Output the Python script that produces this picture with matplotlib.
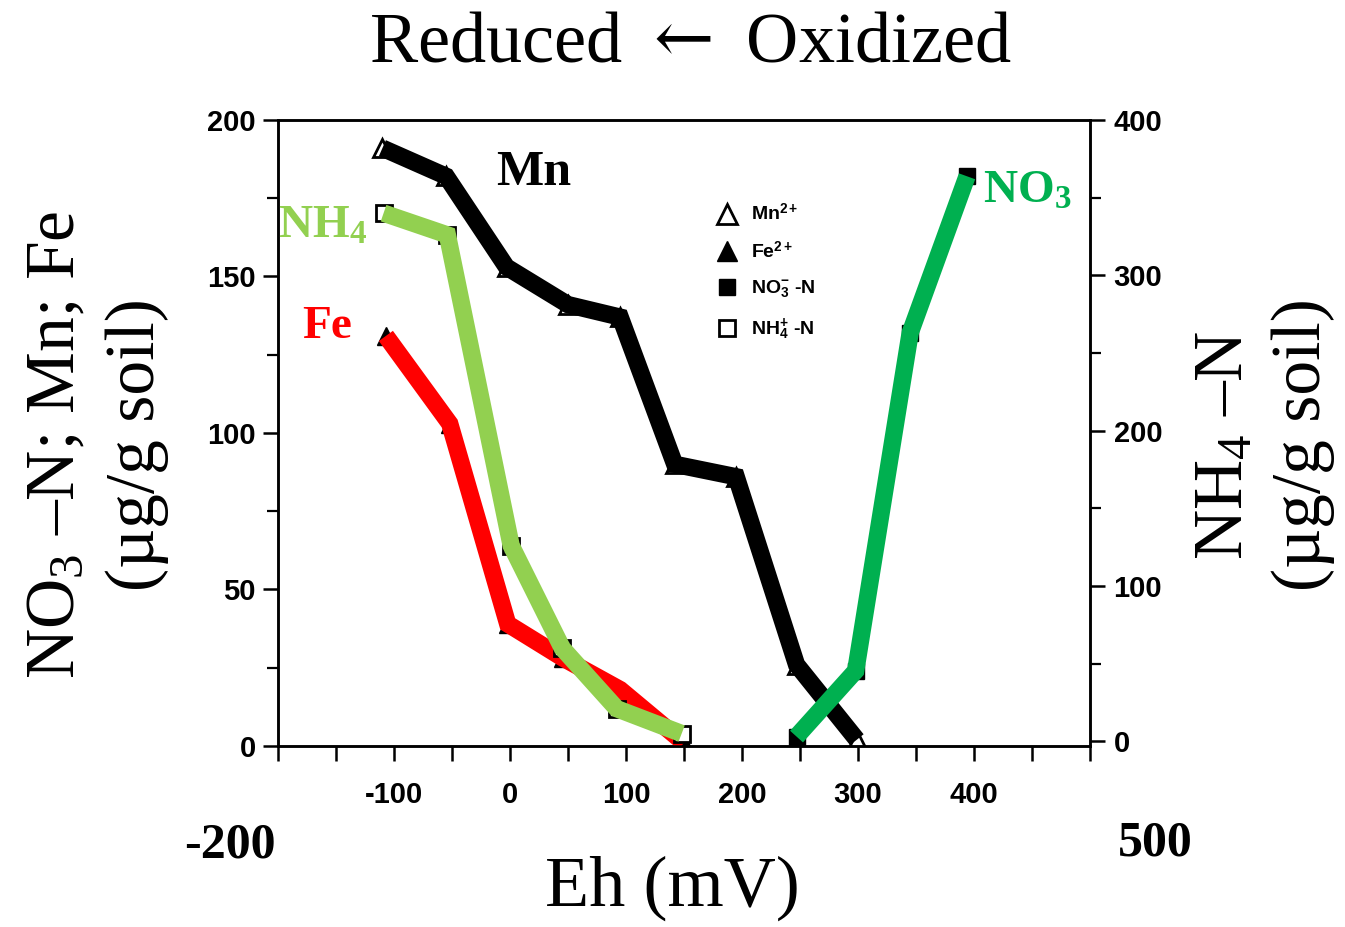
import matplotlib
matplotlib.use("Agg")
import matplotlib.pyplot as plt
from matplotlib.ticker import MultipleLocator

plt.rcParams['mathtext.fontset'] = 'custom'
plt.rcParams['mathtext.rm'] = 'Liberation Serif'
plt.rcParams['mathtext.it'] = 'Liberation Serif:italic'
plt.rcParams['mathtext.bf'] = 'Liberation Serif:bold'
plt.rcParams['mathtext.sf'] = 'Liberation Sans:bold'

# values (Eh in mV, concentrations in ug/g soil)
eh_mn = [-110, -55, -3, 50, 95, 142, 195, 247, 299]
mn = [191, 182, 153, 141, 137, 90, 86, 26, 2]

eh_fe = [-107, -52, -2, 46, 95, 150]
fe = [131, 103, 39, 28, 18, 1]

eh_no3 = [247, 298, 345, 394]
no3 = [3, 24, 132, 182]

# NH4 is on the right axis
eh_nh4 = [-109, -54, 1, 45, 92, 148]
nh4 = [340, 326, 126, 60, 21, 5]

serif = 'Liberation Serif'
sans = 'Liberation Sans'

fig = plt.figure(figsize=(13.45, 9.27), dpi=100)
ax = fig.add_axes([0.2067, 0.1953, 0.6037, 0.6753])
ax2 = ax.twinx()

lw = 12.5
ms = 13
# scanned markers underneath
ax.plot(eh_mn, mn, ls='none', marker='^', ms=ms, mfc='white', mec='black', mew=2,
        zorder=2, label='Mn$^{\\mathsf{2+}}$')
ax.plot(eh_fe, fe, ls='none', marker='^', ms=ms, mfc='black', mec='black',
        zorder=2, label='Fe$^{\\mathsf{2+}}$')
ax.plot(eh_no3, no3, ls='none', marker='s', ms=ms - 2, mfc='black', mec='black',
        zorder=2, label='NO$_{\\mathsf{3}}^{\\mathsf{-}}$ -N')
ax2.plot(eh_nh4, nh4, ls='none', marker='s', ms=ms - 2, mfc='white', mec='black',
         mew=2, zorder=2)
nh4_handle, = ax.plot([], [], ls='none', marker='s', ms=ms - 2, mfc='white',
                      mec='black', mew=2, label='NH$_{\\mathsf{4}}^{\\mathsf{+}}$ -N')

# thick coloured lines on top
line_kw = dict(lw=lw, solid_joinstyle='miter', solid_capstyle='butt', zorder=3)
ax.plot(eh_mn, mn, color='black', **line_kw)
ax.plot(eh_fe, fe, color='#ff0000', **line_kw)
ax.plot(eh_no3, no3, color='#00b050', **line_kw)
ax2.plot(eh_nh4, nh4, color='#92d050', **line_kw)

ax.set_xlim(-200, 500)
ax.set_ylim(0, 200)
ax2.set_ylim(-3, 400)

ax.set_xticks([-200, -150, -100, -50, 0, 50, 100, 150, 200, 250, 300, 350, 400, 450, 500])
ax.set_xticklabels(['', '', '-100', '', '0', '', '100', '', '200', '', '300', '', '400', '', ''])
ax.yaxis.set_major_locator(MultipleLocator(50))
ax.yaxis.set_minor_locator(MultipleLocator(25))
ax2.yaxis.set_major_locator(MultipleLocator(100))
ax2.yaxis.set_minor_locator(MultipleLocator(50))

for a in (ax, ax2):
    for s in a.spines.values():
        s.set_linewidth(1.8)
ax.tick_params(axis='both', which='major', direction='out', length=11, width=1.8,
               labelsize=21, pad=5)
ax.tick_params(axis='x', pad=14)
ax.tick_params(axis='y', which='minor', direction='out', length=8, width=1.6)
ax2.tick_params(axis='y', which='major', direction='out', length=11, width=1.8,
                labelsize=21, pad=6)
ax2.tick_params(axis='y', which='minor', direction='out', length=8, width=1.6)
for lab in ax.get_xticklabels() + ax.get_yticklabels() + ax2.get_yticklabels():
    lab.set_fontfamily(sans)
    lab.set_fontweight('bold')

leg = ax.legend(loc='upper left', bbox_to_anchor=(0.52, 0.895), frameon=False,
                prop={'family': sans, 'weight': 'bold', 'size': 14},
                handlelength=1.0, handletextpad=0.7, labelspacing=0.85,
                markerscale=1.1)

# series labels
ax.text(-12, 183, 'Mn', fontsize=36, fontweight='bold', family=serif,
        color='black', ha='left', va='center')
ax.text(-200, 166, 'NH$_\\mathbf{4}$', fontsize=34, fontweight='bold', family=serif,
        color='#92d050', ha='left', va='center')
ax.text(-179, 134, 'Fe', fontsize=34, fontweight='bold', family=serif,
        color='#ff0000', ha='left', va='center')
ax.text(408, 177, 'NO$_\\mathbf{3}$', fontsize=34, fontweight='bold', family=serif,
        color='#00b050', ha='left', va='center')

fig.text(0.513, 0.953, 'Reduced $\\leftarrow$ Oxidized', fontsize=52, family=serif,
         math_fontfamily='dejavuserif', ha='center', va='center')
fig.text(0.5, 0.042, 'Eh (mV)', fontsize=52, family=serif, ha='center', va='center')
fig.text(0.171, 0.088, '-200', fontsize=36, fontweight='bold', family=serif,
         ha='center', va='center')
fig.text(0.859, 0.090, '500', fontsize=36, fontweight='bold', family=serif,
         ha='center', va='center')
fig.text(0.072, 0.52, 'NO$_3$ –N; Mn; Fe\n(µg/g soil)', fontsize=50, family=serif,
         rotation=90, ha='center', va='center', multialignment='center',
         linespacing=1.35)
fig.text(0.94, 0.52, 'NH$_4$ –N\n(µg/g soil)', fontsize=50, family=serif,
         rotation=90, ha='center', va='center', multialignment='center',
         linespacing=1.3)

fig.savefig('out.png', dpi=100)
